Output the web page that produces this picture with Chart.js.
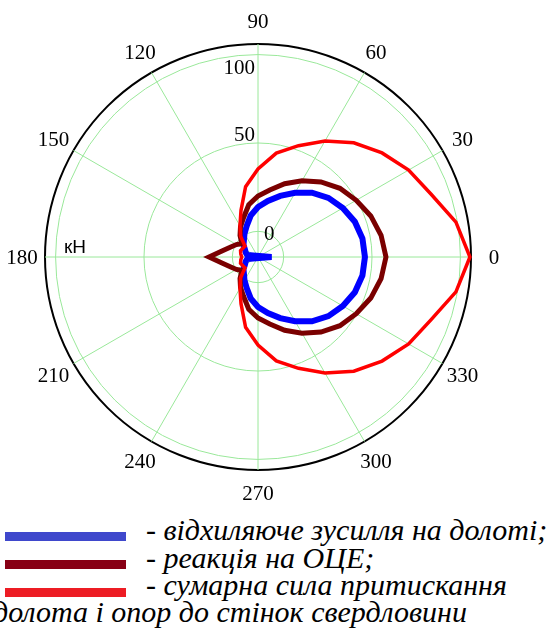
<!DOCTYPE html>
<html>
<head>
<meta charset="utf-8">
<script src="https://cdn.jsdelivr.net/npm/chart.js@4.4.1/dist/chart.umd.min.js"></script>
<style>
    body { margin: 0; background: #fff; }
    #wrap { position: relative; width: 551px; height: 635px; overflow: hidden; }
    #polar { position: absolute; left: 0; top: 0; }
    .bar { position: absolute; left: 5px; width: 121px; height: 9px; }
    .txt { position: absolute; font: italic 30px "Liberation Serif", "Times New Roman", serif; color: #000; white-space: nowrap; line-height: 30px; }
</style>
</head>
<body>
<div id="wrap">
    <canvas id="polar" width="551" height="500"></canvas>
    <div class="bar" style="top:532px;background:#3f48cc"></div>
    <div class="bar" style="top:560px;background:#880015"></div>
    <div class="bar" style="top:588px;background:#ed1c24"></div>
    <div class="txt" style="left:146px;top:515px">- відхиляюче зусилля на долоті;</div>
    <div class="txt" style="left:146px;top:543px">- реакція на ОЦЕ;</div>
    <div class="txt" style="left:146px;top:570px">- сумарна сила притискання</div>
    <div class="txt" style="left:-7px;top:597px">долота і опор до стінок свердловини</div>
</div>
<script>
// --- 1. DATA (angle in degrees, counter-clockwise from 0; values in кН) ---
const angles = [0, 10, 20, 30, 40, 50, 60, 70, 80, 90, 100, 110, 120, 130, 140, 150, 160, 170,
                180, 190, 200, 210, 220, 230, 240, 250, 260, 270, 280, 290, 300, 310, 320, 330, 340, 350];

// відхиляюче зусилля на долоті
const blueForce = [46.0, 45.5, 43.8, 40.9, 37.5, 33.0, 27.4, 22.3, 17.7, 13.8, 9.3, 4.2, 0.8, -2.1, -3.8, -6.0, -7.1, -8.3,
                   -22.2, -8.3, -7.1, -6.0, -3.8, -2.1, 0.8, 4.2, 9.3, 13.8, 17.7, 22.3, 27.4, 33.0, 37.5, 40.9, 43.8, 45.5];

// реакція на ОЦЕ
const brownForce = [57.9, 56.2, 53.4, 49.7, 46.0, 40.9, 35.3, 29.6, 24.0, 20.0, 15.5, 9.3, 5.3, 1.3, -2.6, -0.4, 1.9, 5.9,
                    13.2, 5.9, 1.9, -0.4, -2.6, 1.3, 5.3, 9.3, 15.5, 20.0, 24.0, 29.6, 35.3, 40.9, 46.0, 49.7, 53.4, 56.2];

// сумарна сила притискання
const redForce = [105.4, 99.2, 89.6, 83.9, 77.1, 69.8, 61.3, 52.5, 45.2, 35.3, 25.9, 13.6, 5.9, 0.8, -4.9, -4.6, -4.0, -4.6,
                  -5.3, -4.6, -4.0, -4.6, -4.9, 0.8, 5.9, 13.6, 25.9, 35.3, 45.2, 52.5, 61.3, 69.8, 77.1, 83.9, 89.6, 99.2];

const radialTicks = [0, 50, 100];
const angleTicks = [0, 30, 60, 90, 120, 150, 180, 210, 240, 270, 300, 330];
const R_MIN = -14.5;
const R_MAX = 106;
const UNIT = 'кН';

// --- 2. REORDER FOR RADAR (Chart.js goes clockwise, plot goes counter-clockwise) ---
const chartLabels = angles.map((_, i) => (360 - angles[i]) % 360);
const pick = series => chartLabels.map(a => series[angles.indexOf(a)]);

const GRID_GREEN = '#9ae89a';
const SERIF = '"Liberation Serif", "Times New Roman", serif';

// --- 3. TEXT PLUGIN: angle numbers, radial numbers, unit ---
const polarText = {
    id: 'polarText',
    afterDraw(chart) {
        const scale = chart.scales.r;
        const ctx = chart.ctx;
        const cx = scale.xCenter, cy = scale.yCenter;
        ctx.save();
        ctx.fillStyle = '#000';
        ctx.font = '21px ' + SERIF;
        ctx.textAlign = 'center';
        ctx.textBaseline = 'middle';
        chartLabels.forEach((a, i) => {
            if (!angleTicks.includes(a)) return;
            const p = scale.getPointPosition(i, scale.drawingArea + 23);
            ctx.fillText(String(a), p.x, p.y + 1);
        });

        // radial tick numbers sit along the vertical axis
        const offsets = { 0: 3, 50: -8, 100: 14 };
        radialTicks.forEach(v => {
            const d = scale.getDistanceFromCenterForValue(v);
            const y = cy - d + offsets[v];
            if (v === 0) { ctx.textAlign = 'left'; ctx.fillText(String(v), cx + 6, y); }
            else { ctx.textAlign = 'right'; ctx.fillText(String(v), cx - 3, y); }
        });

        ctx.font = '19px "Liberation Sans", Arial, sans-serif';
        ctx.textAlign = 'left';
        ctx.textBaseline = 'alphabetic';
        ctx.fillText(UNIT, scale.getPointPosition(chartLabels.indexOf(180), scale.drawingArea).x + 19, cy - 4);
        ctx.restore();
    }
};

// --- 4. CHART ---
new Chart(document.getElementById('polar'), {
    type: 'radar',
    data: {
        labels: chartLabels,
        datasets: [
            { label: 'сумарна сила притискання', data: pick(redForce), borderColor: '#ff0000', borderWidth: 3.5 },
            { label: 'реакція на ОЦЕ', data: pick(brownForce), borderColor: '#7a0000', borderWidth: 5 },
            { label: 'відхиляюче зусилля на долоті', data: pick(blueForce), borderColor: '#0000ff', borderWidth: 6 }
        ]
    },
    options: {
        responsive: false,
        animation: false,
        layout: { padding: { left: 45, top: 44, right: 80, bottom: 30 } },
        elements: {
            line: { fill: false, tension: 0, borderJoinStyle: 'miter' },
            point: { radius: 0, hitRadius: 0 }
        },
        plugins: { legend: { display: false }, tooltip: { enabled: false } },
        scales: {
            r: {
                min: R_MIN,
                max: R_MAX,
                startAngle: 90,
                afterBuildTicks: s => { s.ticks = [R_MIN].concat(radialTicks, [R_MAX]).map(v => ({ value: v })); },
                ticks: { display: false },
                pointLabels: { display: false },
                grid: {
                    circular: true,
                    color: c => c.tick.value === R_MAX ? '#000' : (radialTicks.includes(c.tick.value) ? GRID_GREEN : 'rgba(0,0,0,0)'),
                    lineWidth: c => c.tick.value === R_MAX ? 2 : 1
                },
                angleLines: {
                    color: c => angleTicks.includes(Number(c.label)) ? GRID_GREEN : 'rgba(0,0,0,0)',
                    lineWidth: 1
                }
            }
        }
    },
    plugins: [polarText]
});
</script>
</body>
</html>
